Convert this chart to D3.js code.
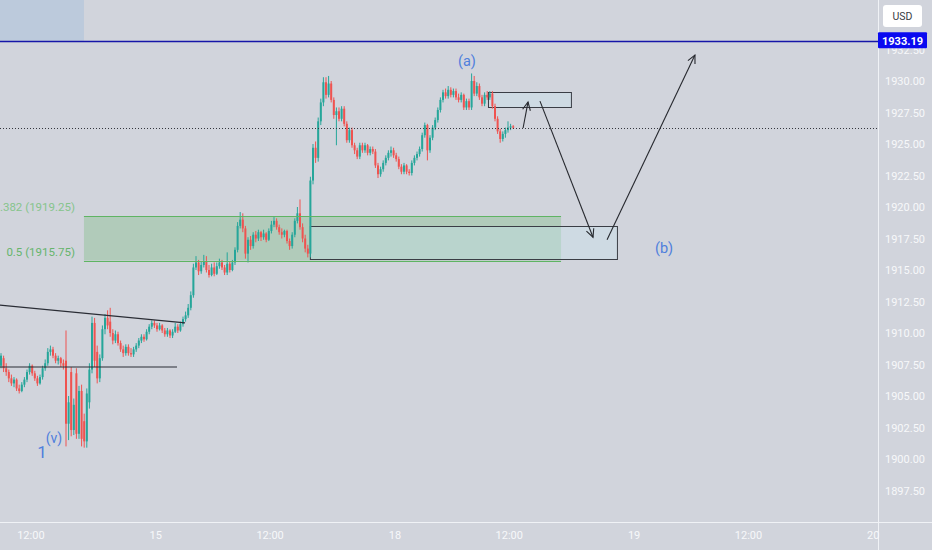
<!DOCTYPE html>
<html><head><meta charset="utf-8">
<script src="https://cdn.jsdelivr.net/npm/d3@7"></script>
<style>html,body{margin:0;padding:0;background:#d1d4dc;overflow:hidden}svg{display:block}</style>
</head><body><svg id="c" width="932" height="550"></svg>
<script>
// ---------- DATA (15-min bars, bar index = time) ----------
const opens = [
1907.4,1908.0,1907.2,1906.9,1906.4,1906.0,1906.3,1905.6,1905.4,1905.9,
1906.3,1906.9,1907.4,1906.8,1906.4,1906.0,1906.5,1907.2,1907.6,1908.5,
1908.7,1908.2,1907.8,1908.0,1907.6,1907.8,1902.8,1906.9,1902.3,1906.8,
1902.0,1905.4,1903.0,1901.4,1904.5,1907.1,1910.8,1908.5,1906.4,1908.0,
1910.3,1911.2,1910.9,1910.0,1909.4,1909.9,1909.2,1908.7,1908.4,1908.9,
1908.4,1908.3,1908.7,1909.0,1909.4,1909.7,1909.5,1910.1,1910.5,1910.8,
1910.6,1910.3,1910.6,1910.2,1909.9,1910.2,1909.8,1910.1,1910.5,1910.2,
1910.7,1911.1,1911.4,1912.0,1913.0,1915.2,1915.6,1914.9,1915.4,1915.7,
1915.0,1914.6,1915.2,1914.7,1915.3,1915.6,1915.2,1914.8,1915.5,1915.0,
1915.6,1916.6,1918.5,1919.0,1918.3,1916.3,1917.4,1916.9,1917.8,1917.5,
1918.0,1917.6,1917.9,1917.4,1918.1,1918.6,1918.9,1918.4,1918.0,1917.8,
1918.1,1917.3,1916.9,1917.8,1918.9,1919.5,1918.4,1917.5,1916.7,1916.3,
1922.1,1924.7,1923.9,1926.8,1928.3,1929.9,1928.9,1929.8,1928.5,1927.3,
1927.6,1927.0,1927.8,1926.6,1925.3,1926.1,1924.9,1924.5,1924.0,1924.9,
1924.5,1924.9,1924.3,1924.6,1924.4,1923.3,1922.6,1923.0,1923.5,1923.9,
1924.3,1924.5,1924.1,1923.8,1923.2,1922.8,1923.3,1922.8,1922.7,1923.5,
1923.9,1924.2,1924.6,1925.7,1926.5,1924.5,1925.5,1926.3,1926.9,1927.7,
1928.5,1929.1,1928.8,1929.3,1928.9,1929.2,1928.7,1928.5,1928.9,1927.9,
1928.4,1927.9,1930.0,1929.0,1929.6,1928.7,1928.2,1928.9,1928.7,1929.0,
1928.0,1927.0,1926.0,1925.4,1925.8,1926.1,1926.3,1926.4];
const highs = [
1908.4,1908.2,1907.6,1907.1,1906.7,1906.5,1906.4,1905.9,1906.1,1906.5,
1907.1,1907.6,1907.5,1907.0,1906.6,1906.7,1907.4,1907.9,1908.8,1909.0,
1908.9,1908.4,1908.2,1908.1,1907.9,1910.2,1905.0,1907.3,1904.8,1907.2,
1905.8,1905.9,1903.6,1905.6,1907.6,1911.3,1911.2,1909.0,1908.3,1910.6,
1911.5,1911.8,1912.0,1910.3,1910.2,1910.1,1909.4,1909.0,1909.1,1909.1,
1908.8,1908.9,1909.2,1909.6,1909.9,1909.9,1910.3,1910.7,1911.0,1911.0,
1910.8,1910.8,1910.7,1910.4,1910.4,1910.3,1910.3,1910.8,1910.7,1910.9,
1911.3,1911.7,1912.3,1913.3,1915.5,1916.1,1915.8,1915.7,1916.2,1916.1,
1915.4,1915.5,1915.6,1915.6,1915.9,1915.8,1915.4,1916.4,1915.7,1915.8,
1916.8,1918.8,1919.6,1919.5,1918.5,1917.6,1917.7,1918.0,1918.1,1918.2,
1918.1,1918.2,1918.0,1918.3,1918.9,1919.2,1919.1,1918.6,1918.3,1918.2,
1918.2,1917.5,1918.0,1919.1,1920.0,1920.6,1918.7,1917.8,1917.0,1922.4,
1925.0,1925.2,1927.1,1928.6,1930.3,1930.3,1930.4,1930.0,1928.7,1927.9,
1927.9,1928.0,1928.0,1926.8,1926.3,1926.3,1925.1,1924.7,1925.1,1925.1,
1925.1,1925.0,1924.8,1924.8,1924.6,1923.5,1923.2,1923.7,1924.1,1924.5,
1924.8,1924.7,1924.3,1924.0,1923.4,1923.5,1923.4,1923.0,1923.7,1924.1,
1924.4,1924.8,1925.9,1926.7,1926.6,1925.7,1926.5,1927.1,1927.9,1928.7,
1929.3,1929.4,1929.6,1929.5,1929.4,1929.4,1929.0,1929.1,1929.0,1928.6,
1928.6,1930.6,1930.4,1929.9,1929.8,1928.9,1929.1,1929.2,1929.2,1929.2,
1928.2,1927.2,1926.2,1926.0,1926.3,1926.8,1926.6,1926.5];
const lows = [
1907.2,1906.9,1906.6,1906.1,1905.8,1905.7,1905.4,1905.2,1905.3,1905.7,
1906.1,1906.7,1906.6,1906.2,1905.8,1905.9,1906.3,1907.0,1907.4,1908.2,
1908.0,1907.6,1907.5,1907.3,1907.1,1901.0,1901.5,1901.8,1901.9,1901.6,
1901.6,1901.0,1900.9,1900.9,1904.0,1906.8,1907.3,1906.0,1906.1,1907.8,
1909.9,1910.3,1909.7,1909.1,1909.2,1909.0,1908.5,1908.1,1908.2,1908.2,
1908.1,1908.1,1908.5,1908.8,1909.2,1909.3,1909.4,1909.9,1910.3,1910.4,
1910.1,1910.2,1910.0,1909.7,1909.7,1909.6,1909.6,1910.0,1910.0,1910.1,
1910.5,1910.9,1911.2,1911.8,1912.8,1915.0,1914.6,1914.7,1915.2,1914.8,
1914.4,1914.5,1914.5,1914.6,1915.1,1915.0,1914.6,1914.6,1914.8,1914.9,
1915.4,1916.4,1918.3,1918.0,1915.9,1915.6,1916.6,1916.7,1917.2,1917.3,
1917.3,1917.4,1917.2,1917.3,1917.9,1918.4,1918.2,1917.8,1917.5,1917.6,
1917.1,1916.6,1916.7,1917.6,1918.7,1918.2,1917.2,1916.4,1916.0,1916.0,
1921.8,1923.5,1923.6,1926.5,1928.0,1928.6,1928.7,1928.3,1927.0,1924.9,
1926.8,1926.8,1926.4,1925.1,1925.1,1924.7,1924.2,1923.8,1923.8,1924.3,
1924.3,1924.1,1924.1,1924.2,1923.1,1922.3,1922.4,1922.8,1923.3,1923.7,
1924.0,1923.9,1923.6,1923.0,1922.6,1922.6,1922.6,1922.5,1922.5,1923.3,
1923.7,1924.0,1924.4,1925.5,1923.7,1924.3,1925.3,1926.1,1926.7,1927.5,
1928.3,1928.6,1928.6,1928.7,1928.7,1928.5,1928.3,1928.3,1927.7,1927.7,
1927.7,1927.7,1928.8,1928.8,1928.5,1928.0,1928.0,1928.5,1928.5,1927.8,
1926.8,1925.8,1925.1,1925.2,1925.5,1925.9,1926.1,1926.2];
const closes = [
1908.2,1907.2,1906.9,1906.4,1906.0,1906.3,1905.6,1905.4,1905.9,1906.3,
1906.9,1907.4,1906.8,1906.4,1906.0,1906.5,1907.2,1907.6,1908.5,1908.7,
1908.2,1907.8,1908.0,1907.6,1907.4,1902.8,1904.5,1902.3,1904.3,1902.0,
1905.4,1901.6,1901.4,1905.2,1907.1,1910.8,1907.8,1906.4,1908.0,1910.3,
1911.2,1910.6,1910.0,1909.4,1909.9,1909.2,1908.7,1908.4,1908.9,1908.4,
1908.3,1908.7,1909.0,1909.4,1909.7,1909.5,1910.1,1910.5,1910.8,1910.6,
1910.3,1910.6,1910.2,1909.9,1910.2,1909.8,1910.1,1910.5,1910.2,1910.7,
1911.1,1911.4,1912.0,1913.0,1915.2,1915.6,1914.9,1915.4,1915.7,1915.0,
1914.6,1915.2,1914.7,1915.3,1915.6,1915.2,1914.8,1915.5,1915.0,1915.6,
1916.6,1918.5,1919.0,1918.3,1916.3,1917.4,1916.9,1917.8,1917.5,1918.0,
1917.6,1917.9,1917.4,1918.1,1918.6,1918.9,1918.4,1918.0,1917.8,1918.1,
1917.3,1916.9,1917.8,1918.9,1919.5,1918.4,1917.5,1916.7,1916.3,1922.1,
1924.7,1923.9,1926.8,1928.3,1929.9,1928.9,1929.8,1928.5,1927.3,1927.6,
1927.0,1927.8,1926.6,1925.3,1926.1,1924.9,1924.5,1924.0,1924.9,1924.5,
1924.9,1924.3,1924.6,1924.4,1923.3,1922.6,1923.0,1923.5,1923.9,1924.3,
1924.5,1924.1,1923.8,1923.2,1922.8,1923.3,1922.8,1922.7,1923.5,1923.9,
1924.2,1924.6,1925.7,1926.5,1924.5,1925.5,1926.3,1926.9,1927.7,1928.5,
1929.1,1928.8,1929.3,1928.9,1929.2,1928.7,1928.5,1928.9,1927.9,1928.4,
1927.9,1930.0,1929.0,1929.6,1928.7,1928.2,1928.9,1928.7,1929.0,1928.0,
1927.0,1926.0,1925.4,1925.8,1926.1,1926.3,1926.4,1926.3];

const timeLabels = ["12:00","15","12:00","18","12:00","19","12:00","20"];
const timeTickBars = [11.5, 59.5, 103.5, 151.5, 195.5, 243.5, 287.5, 335.5];
const priceTicks = [1897.5,1900,1902.5,1905,1907.5,1910,1912.5,1915,1917.5,1920,1922.5,1925,1927.5,1930,1932.5];

const fibLevels = [0.382, 0.5];
const fibPrices = [1919.25, 1915.75];
const fibZoneBars = [31.9, 215.4];

const markedPrice = 1933.19;
const boxBigBars = [118.8, 236.9], boxBigPrices = [1918.5, 1915.85];
const boxSmallBars = [187.3, 219.2], boxSmallPrices = [1929.13, 1927.94];

const arrowBar1 = [200.8, 207.3, 233.1];
const arrowPrice1 = [1926.27, 1928.4, 1917.4];
const arrowBar2 = [202.7, 227.7, 266.9];
const arrowPrice2 = [1928.33, 1917.6, 1932.06];

const trendBars = [-0.4, 70.8], trendPrices = [1912.22, 1910.8];
const hLineBars = [-0.4, 67.7], hLinePrice = 1907.3;

const waveLabels = ["(a)", "(b)"];
const waveBars = [179.2, 255];
const wavePrices = [1931.6, 1916.75];

// ---------- LAYOUT ----------
const W = 932, H = 550, plotR = 878, plotB = 522;
const svg = d3.select("#c");
const x = d3.scaleLinear().domain([0, 100]).range([1, 261]);
const y = d3.scaleLinear().domain([1930, 1900]).range([81, 459]);
const bg = "#d1d4dc";
const up = "#26a69a", dn = "#ef5350";
const font = "Roboto, 'Liberation Sans', sans-serif";

svg.append("rect").attr("width", W).attr("height", H).attr("fill", bg);
svg.append("defs").append("clipPath").attr("id", "plot")
  .append("rect").attr("x", 0).attr("y", 0).attr("width", plotR).attr("height", plotB);
const g = svg.append("g").attr("clip-path", "url(#plot)");

// top-left highlighted range
g.append("rect").attr("x", -5).attr("y", -5)
  .attr("width", x(fibZoneBars[0]) + 5).attr("height", y(markedPrice) + 5)
  .attr("fill", "#bccadc");

// fib zone
g.append("rect").attr("x", x(fibZoneBars[0])).attr("y", y(fibPrices[0]))
  .attr("width", x(fibZoneBars[1]) - x(fibZoneBars[0]))
  .attr("height", y(fibPrices[1]) - y(fibPrices[0]))
  .attr("fill", "rgba(76,175,80,0.24)");

// boxes
function box(bars, prices){
  g.append("rect").attr("x", x(bars[0]) + 0.5).attr("y", Math.round(y(prices[0])) + 0.5)
    .attr("width", x(bars[1]) - x(bars[0]))
    .attr("height", Math.round(y(prices[1]) - y(prices[0])))
    .attr("fill", "rgba(200,228,240,0.35)").attr("stroke", "#3a3d45").attr("stroke-width", 1);
}
box(boxBigBars, boxBigPrices);
box(boxSmallBars, boxSmallPrices);

// candles
const idx = d3.range(closes.length);
const cg = g.append("g");
cg.selectAll("line.w").data(idx).join("line")
  .attr("x1", i => x(i)).attr("x2", i => x(i))
  .attr("y1", i => y(highs[i])).attr("y2", i => y(lows[i]))
  .attr("stroke", i => closes[i] >= opens[i] ? up : dn).attr("stroke-width", 1);
cg.selectAll("rect.b").data(idx).join("rect")
  .attr("x", i => x(i) - 1).attr("width", 2)
  .attr("y", i => y(Math.max(opens[i], closes[i])))
  .attr("height", i => Math.max(0.8, Math.abs(y(opens[i]) - y(closes[i]))))
  .attr("fill", i => closes[i] >= opens[i] ? up : dn);

// fib lines
fibPrices.forEach(p => {
  g.append("line").attr("x1", x(fibZoneBars[0])).attr("x2", x(fibZoneBars[1]))
    .attr("y1", Math.round(y(p)) + 0.5).attr("y2", Math.round(y(p)) + 0.5)
    .attr("stroke", "#5fb463").attr("stroke-width", 1);
});
const fibColors = ["#86c48c", "#66b46d"];
fibLevels.forEach((l, k) => {
  g.append("text").attr("x", x(fibZoneBars[0]) - 9).attr("y", y(fibPrices[k]) - 5)
    .attr("text-anchor", "end").attr("font-family", font)
    .attr("font-size", 11.5).attr("fill", fibColors[k])
    .text(`${l} (${fibPrices[k].toFixed(2)})`);
});

// trend line & horizontal line
g.append("line").attr("x1", x(trendBars[0])).attr("y1", y(trendPrices[0]))
  .attr("x2", x(trendBars[1])).attr("y2", y(trendPrices[1]))
  .attr("stroke", "#2a2d35").attr("stroke-width", 1.2);
g.append("line").attr("x1", x(hLineBars[0])).attr("x2", x(hLineBars[1]))
  .attr("y1", y(hLinePrice)).attr("y2", y(hLinePrice))
  .attr("stroke", "#2a2d35").attr("stroke-width", 1.2);

// last price dotted line
const lastY = Math.round(y(closes[closes.length - 1])) + 0.5;
g.append("line").attr("x1", 0).attr("x2", plotR).attr("y1", lastY).attr("y2", lastY)
  .attr("stroke", "#33363e").attr("stroke-width", 1).attr("stroke-dasharray", "1,2");

// marked price line
const mY = Math.round(y(markedPrice)) + 0.5;
g.append("line").attr("x1", 0).attr("x2", plotR).attr("y1", mY).attr("y2", mY)
  .attr("stroke", "#1515a8").attr("stroke-width", 1.4);

// arrows
arrowBar1.forEach((b, k) => {
  const x1 = x(b), y1 = y(arrowPrice1[k]), x2 = x(arrowBar2[k]), y2 = y(arrowPrice2[k]);
  g.append("line").attr("x1", x1).attr("y1", y1).attr("x2", x2).attr("y2", y2)
    .attr("stroke", "#26282e").attr("stroke-width", 1.1);
  const a = Math.atan2(y2 - y1, x2 - x1), L = 9, s = 0.45;
  g.append("path").attr("d",
    `M${x2 - L*Math.cos(a - s)},${y2 - L*Math.sin(a - s)}L${x2},${y2}L${x2 - L*Math.cos(a + s)},${y2 - L*Math.sin(a + s)}`)
    .attr("fill", "none").attr("stroke", "#26282e").attr("stroke-width", 1.1);
});

// wave labels
const blue = "#4f7fdc";
waveLabels.forEach((t, k) => {
  g.append("text").attr("x", x(waveBars[k])).attr("y", y(wavePrices[k]) + 5)
    .attr("text-anchor", "middle").attr("font-family", font)
    .attr("font-size", 14.5).attr("fill", blue).text(t);
});
g.append("text").attr("x", 42).attr("y", 458).attr("text-anchor", "middle")
  .attr("font-family", font).attr("font-size", 17).attr("fill", blue).text("1");
g.append("text").attr("x", 54).attr("y", 443).attr("text-anchor", "middle")
  .attr("font-family", font).attr("font-size", 14).attr("fill", blue).text("(v)");

// axes separators
svg.append("line").attr("x1", 0).attr("x2", W).attr("y1", plotB + 0.5).attr("y2", plotB + 0.5)
  .attr("stroke", "#f0f2f6").attr("stroke-width", 1);
svg.append("line").attr("x1", plotR + 0.5).attr("x2", plotR + 0.5).attr("y1", 0).attr("y2", H)
  .attr("stroke", "#f0f2f6").attr("stroke-width", 1);

// time axis
timeLabels.forEach((t, k) => {
  svg.append("text").attr("x", x(timeTickBars[k])).attr("y", 539)
    .attr("text-anchor", "middle").attr("font-family", font)
    .attr("font-size", 11).attr("fill", "#f7f8fa").text(t);
});

// price axis (the 1932.50 tick sits under the marked-price label, as in the original)
priceTicks.forEach(p => {
  svg.append("text").attr("x", 885).attr("y", y(p) + 4)
    .attr("font-family", font)
    .attr("font-size", 11).attr("fill", "#f7f8fa").text(p.toFixed(2));
});

// marked price label
svg.append("rect").attr("x", 878).attr("y", y(markedPrice) - 8.5).attr("width", 49).attr("height", 16)
  .attr("fill", "#0a0af0").attr("rx", 1);
svg.append("text").attr("x", 902.5).attr("y", y(markedPrice) + 4).attr("text-anchor", "middle")
  .attr("font-family", font).attr("font-size", 11)
  .attr("font-weight", "bold").attr("fill", "#ffffff").text(markedPrice.toFixed(2));

// currency button
svg.append("rect").attr("x", 883).attr("y", 5).attr("width", 39).attr("height", 22).attr("rx", 3)
  .attr("fill", "#ffffff");
svg.append("text").attr("x", 902.5).attr("y", 20).attr("text-anchor", "middle")
  .attr("font-family", font).attr("font-size", 10.5)
  .attr("fill", "#3a3d45").text("USD");
</script></body></html>
